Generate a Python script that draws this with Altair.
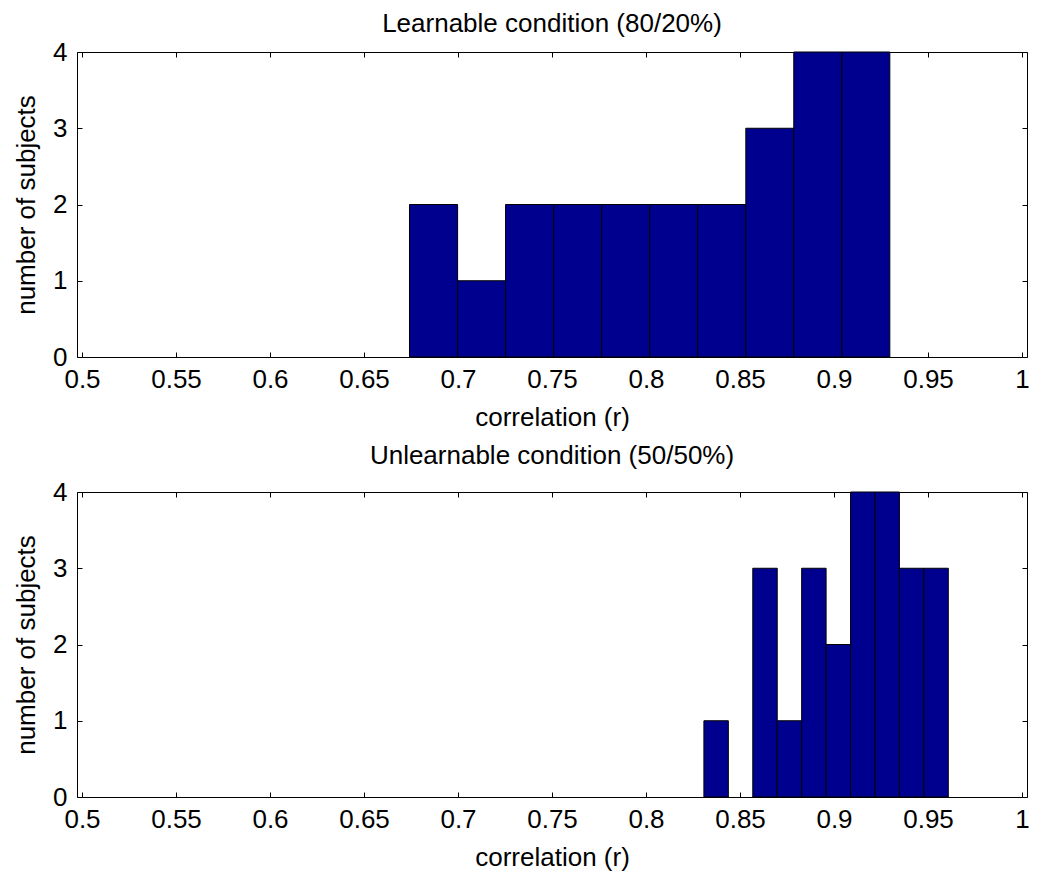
import altair as alt
import pandas as pd

# Learnable condition (80/20%) histogram bins
learn_start = [0.6742, 0.6998, 0.7253, 0.7509, 0.7764, 0.8020, 0.8275, 0.8531, 0.8786, 0.9042]
learn_end = [0.6998, 0.7253, 0.7509, 0.7764, 0.8020, 0.8275, 0.8531, 0.8786, 0.9042, 0.9297]
learn_count = [2, 1, 2, 2, 2, 2, 2, 3, 4, 4]

# Unlearnable condition (50/50%) histogram bins
unlearn_start = [0.8308, 0.8438, 0.8568, 0.8698, 0.8828, 0.8958, 0.9088, 0.9218, 0.9348, 0.9478]
unlearn_end = [0.8438, 0.8568, 0.8698, 0.8828, 0.8958, 0.9088, 0.9218, 0.9348, 0.9478, 0.9608]
unlearn_count = [1, 0, 3, 1, 3, 2, 4, 4, 3, 3]

x_ticks = [0.5, 0.55, 0.6, 0.65, 0.7, 0.75, 0.8, 0.85, 0.9, 0.95, 1.0]
y_ticks = [0, 1, 2, 3, 4]

FONT = "Liberation Sans"
FS = 26
FILL = "#00008F"
W, H = 950, 305


def inner_axis(orient, values):
    return alt.Axis(orient=orient, offset=-5, values=values, labels=False,
                    title=None, tickSize=5, domain=False, grid=False,
                    minExtent=0, maxExtent=0)


def panel(starts, ends, counts, title, title_offset):
    df = pd.DataFrame({"start": starts, "end": ends, "count": counts})
    df = df[df["count"] > 0]
    base = alt.Chart(df)
    xs = alt.Scale(domain=[0.5, 1.0], nice=False, zero=False)
    ys = alt.Scale(domain=[0, 4], nice=False)

    bars = base.mark_bar(color=FILL, stroke="black", strokeWidth=1, orient="vertical").encode(
        x=alt.X("start:Q", scale=xs,
                axis=alt.Axis(values=x_ticks, format="~g", title="correlation (r)",
                              ticks=False, domain=False, grid=False,
                              labelPadding=9, titlePadding=12, labelFlush=False)),
        x2="end:Q",
        y=alt.Y("count:Q", scale=ys,
                axis=alt.Axis(values=y_ticks, title="number of subjects",
                              ticks=False, domain=False, grid=False,
                              labelPadding=10, titlePadding=13, labelFlush=False)),
        y2=alt.datum(0),
    )
    inner_a = base.mark_point(opacity=0).encode(
        x=alt.X("start:Q", scale=xs, axis=inner_axis("bottom", x_ticks)),
        y=alt.Y("count:Q", scale=ys, axis=inner_axis("left", y_ticks)),
    )
    inner_b = base.mark_point(opacity=0).encode(
        x=alt.X("start:Q", scale=xs, axis=inner_axis("top", x_ticks)),
        y=alt.Y("count:Q", scale=ys, axis=inner_axis("right", y_ticks)),
    )
    return alt.layer(bars, inner_a, inner_b).resolve_axis(
        x="independent", y="independent"
    ).properties(
        width=W, height=H,
        title=alt.TitleParams(title, fontSize=FS, font=FONT, fontWeight="normal",
                              color="black", offset=title_offset),
    )


top = panel(learn_start, learn_end, learn_count, "Learnable condition (80/20%)", 2)
bottom = panel(unlearn_start, unlearn_end, unlearn_count, "Unlearnable condition (50/50%)", 10)

chart = alt.vconcat(
    top, bottom, spacing=11, background="white",
    padding={"left": 5, "top": 2, "right": 0, "bottom": 0},
).configure_axis(
    labelFont=FONT, labelFontSize=FS, labelColor="black",
    titleFont=FONT, titleFontSize=FS, titleFontWeight="normal", titleColor="black",
    tickColor="black", tickWidth=1,
).configure_view(stroke="black", strokeWidth=1)

chart.save("out.html", embed_options={"renderer": "svg", "actions": False})
